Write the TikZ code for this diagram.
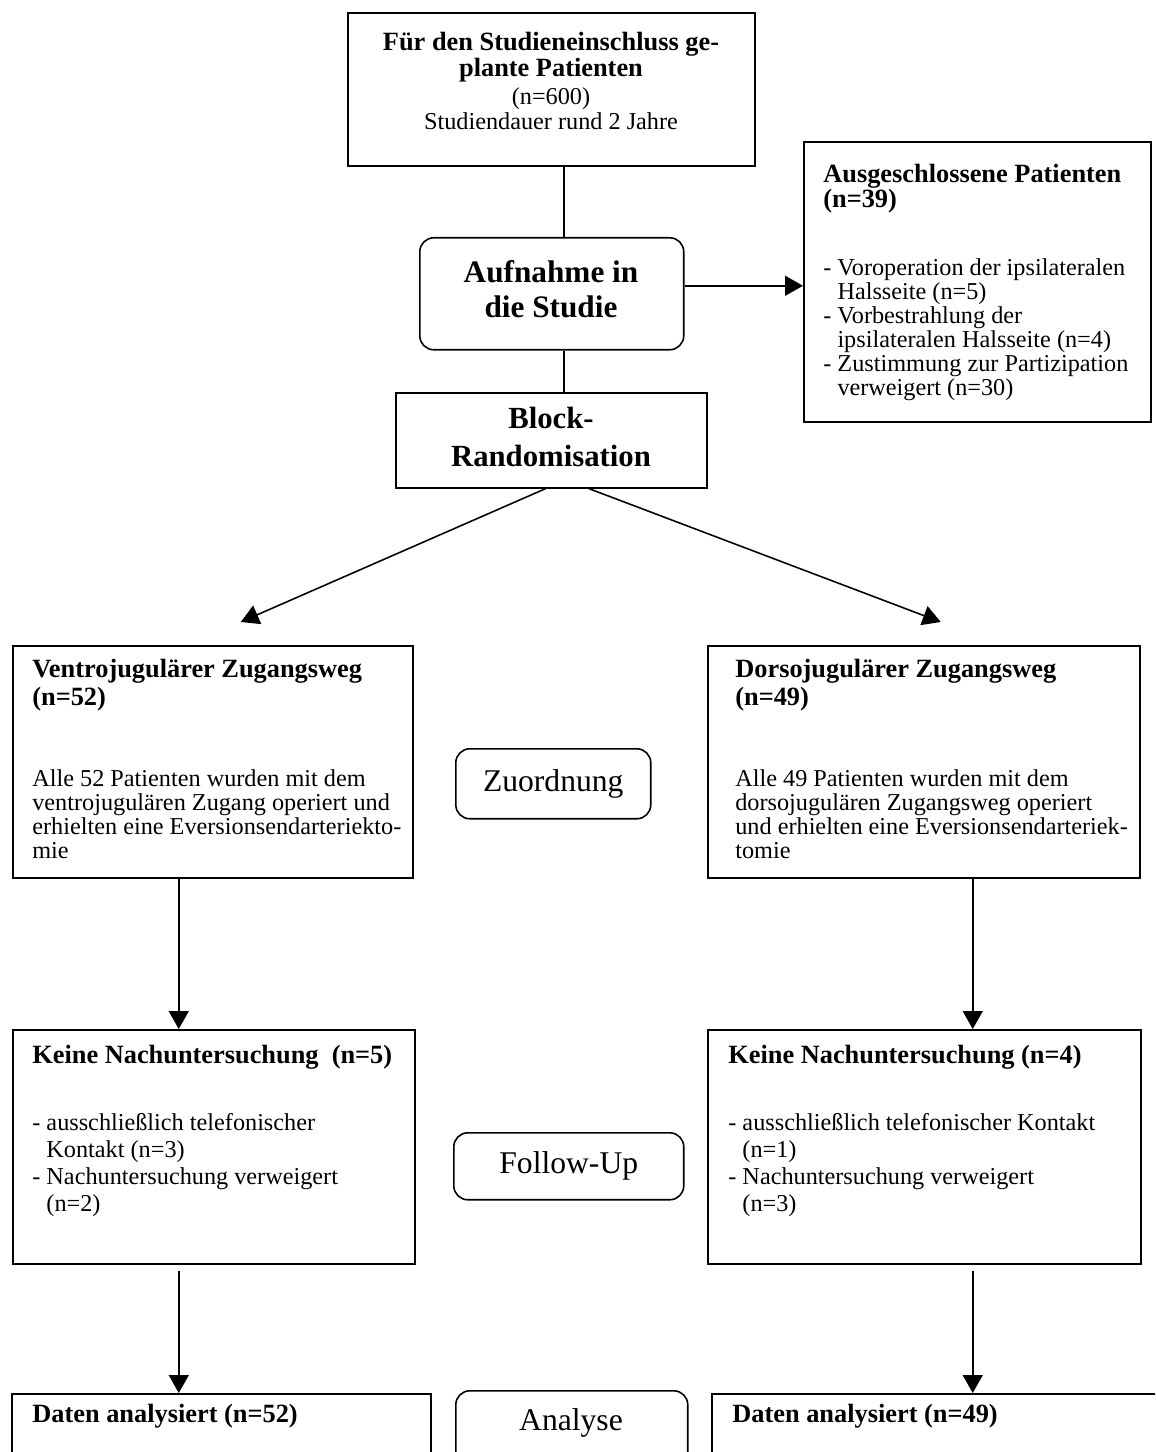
\documentclass[tikz,border=0pt]{standalone}
\usepackage{fontspec}
\setmainfont{Liberation Serif}
\usetikzlibrary{arrows.meta,calc}

\tikzset{
  box/.style={draw,line width=0.9pt,anchor=north west,inner sep=0pt},
  rbox/.style={box,rounded corners=0.28cm},
  hd/.style={font=\fontsize{15}{#1}\selectfont\bfseries,inner sep=0pt,anchor=base west,align=left},
  hd/.default=15,
  bd/.style={font=\fontsize{13.8}{#1}\selectfont,inner sep=0pt,anchor=base west,align=left},
  bd/.default=13.8,
  big/.style={font=\fontsize{17.8}{#1}\selectfont\bfseries,inner sep=0pt,anchor=base,align=center},
  big/.default=21,
  arr/.style={line width=0.9pt,-{Triangle[width=0.4cm,length=0.36cm]}},
  ln/.style={line width=0.9pt}
}

\begin{document}
\begin{tikzpicture}[x=0.02cm,y=-0.02cm]
  \useasboundingbox (0,0) rectangle (1155,1452);
  \clip (0,0) rectangle (1155,1452);

  % Boxes
  \node[box,minimum width=8.14cm,minimum height=3.06cm] (top) at (347,12) {};
  \node[rbox,minimum width=5.28cm,minimum height=2.24cm] (aufn) at (419,237) {};
  \node[box,minimum width=6.94cm,minimum height=5.6cm] (excl) at (803,141) {};
  \node[box,minimum width=6.22cm,minimum height=1.9cm] (block) at (395,392) {};
  \node[box,minimum width=8cm,minimum height=4.64cm] (ventro) at (12,645) {};
  \node[box,minimum width=8.64cm,minimum height=4.64cm] (dorso) at (707,645) {};
  \node[box,minimum width=8.04cm,minimum height=4.68cm] (keineL) at (12,1029) {};
  \node[box,minimum width=8.66cm,minimum height=4.68cm] (keineR) at (707,1029) {};
  \node[box,minimum width=8.38cm,minimum height=3cm] (datenL) at (11,1393) {};
  \node[box,minimum width=9.5cm,minimum height=3cm] (datenR) at (711,1393) {};

  % Phases
  \node[rbox,minimum width=3.9cm,minimum height=1.4cm,font=\fontsize{18}{18}\selectfont] (zuord) at (455,748) {Zuordnung};
  \node[rbox,minimum width=4.6cm,minimum height=1.34cm,font=\fontsize{18}{18}\selectfont] (follow) at (453,1132) {Follow-Up};
  \node[rbox,minimum width=4.64cm,minimum height=3cm] (analyse) at (455,1390) {};
  \node[font=\fontsize{18}{18}\selectfont,anchor=base,inner sep=0pt] (analysetxt) at (571,1430) {Analyse};

  % Texts (anchored at the baseline of their last line)
  \node[hd=15.3,anchor=base,align=center] (tophd) at (551,77) {Für den Studieneinschluss ge-\\plante Patienten};
  \node[bd=14.7,anchor=base,align=center] (topbd) at (551,130) {(n=600)\\Studiendauer rund 2 Jahre};
  \node[big=20.4] (aufntxt) at (551,318) {Aufnahme in\\die Studie};
  \node[big=22.1,font=\fontsize{17.5}{22.1}\selectfont\bfseries] (blocktxt) at (551,467) {Block-\\Randomisation};

  \node[hd=14.7] (exclhd) at (823,208) {Ausgeschlossene Patienten\\(n=39)};
  \node[bd=13.7] (exclbd) at (823,396) {- Voroperation der ipsilateralen\\
    \hphantom{- }Halsseite (n=5)\\
    - Vorbestrahlung der\\
    \hphantom{- }ipsilateralen Halsseite (n=4)\\
    - Zustimmung zur Partizipation\\
    \hphantom{- }verweigert (n=30)};

  \node[hd=15.9] (ventrohd) at (32,705) {Ventrojugulärer Zugangsweg\\(n=52)};
  \node[bd=13.6] (ventrobd) at (32,858) {Alle 52 Patienten wurden mit dem\\
    ventrojugulären Zugang operiert und\\
    erhielten eine Eversionsendarteriekto-\\
    mie};
  \node[hd=15.9] (dorsohd) at (735,705) {Dorsojugulärer Zugangsweg\\(n=49)};
  \node[bd=13.6] (dorsobd) at (735,858) {Alle 49 Patienten wurden mit dem\\
    dorsojugulären Zugangsweg operiert\\
    und erhielten eine Eversionsendarteriek-\\
    tomie};

  \node[hd] (keineLhd) at (32,1063) {Keine Nachuntersuchung\ \ (n=5)};
  \node[bd=15.3] (keineLbd) at (32,1211) {- ausschließlich telefonischer\\
    \hphantom{- }Kontakt (n=3)\\
    - Nachuntersuchung verweigert\\
    \hphantom{- }(n=2)};
  \node[hd] (keineRhd) at (728,1063) {Keine Nachuntersuchung (n=4)};
  \node[bd=15.3] (keineRbd) at (728,1211) {- ausschließlich telefonischer Kontakt\\
    \hphantom{- }(n=1)\\
    - Nachuntersuchung verweigert\\
    \hphantom{- }(n=3)};

  \node[hd] (datenLhd) at (32,1422) {Daten analysiert (n=52)};
  \node[hd] (datenRhd) at (732,1422) {Daten analysiert (n=49)};

  % Connectors
  \draw[ln] ([xshift=0.25cm]top.south) -- ([xshift=0.25cm]top.south |- aufn.north);
  \draw[ln] ([xshift=0.24cm]aufn.south) -- ([xshift=0.24cm]aufn.south |- block.north);
  \draw[arr] ([yshift=0.16cm]aufn.east) -- ([yshift=0.16cm]aufn.east -| excl.west);
  \draw[arr] ([xshift=-0.11cm]block.south) -- ($(ventro.north)+(28,-23)$);
  \draw[arr] ([xshift=0.75cm]block.south) -- ($(dorso.north)+(17,-23)$);
  \draw[arr] ([xshift=-0.68cm]ventro.south) -- ([xshift=-0.68cm]ventro.south |- keineL.north);
  \draw[arr] ([xshift=0.98cm]dorso.south) -- ([xshift=0.98cm]dorso.south |- keineR.north);
  \draw[arr] ([xshift=-0.7cm,yshift=-0.12cm]keineL.south) -- ([xshift=-0.7cm]keineL.south |- datenL.north);
  \draw[arr] ([xshift=0.97cm,yshift=-0.12cm]keineR.south) -- ([xshift=0.97cm]keineR.south |- datenR.north);
\end{tikzpicture}
\end{document}
